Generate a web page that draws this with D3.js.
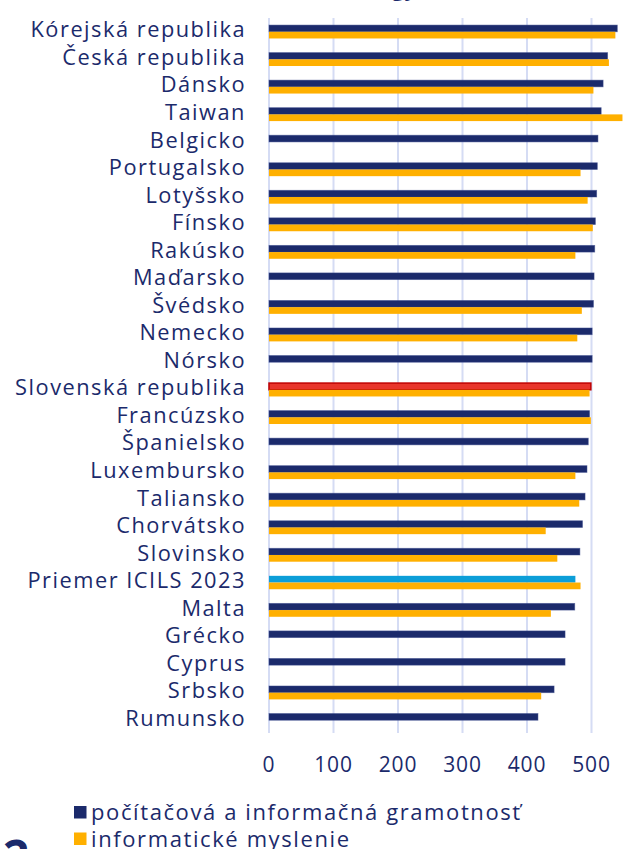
<!DOCTYPE html>
<html>
<head>
<meta charset="utf-8">
<script src="https://cdn.jsdelivr.net/npm/d3@7"></script>
<style>
  body { margin: 0; background: #fff; }
  text { font-family: "Open Sans", Roboto, sans-serif; fill: #1b2a6b; }
</style>
</head>
<body>
<div id="chart"></div>
<script>
// countries, top to bottom
const countries = ["Kórejská republika", "Česká republika", "Dánsko", "Taiwan", "Belgicko",
  "Portugalsko", "Lotyšsko", "Fínsko", "Rakúsko", "Maďarsko", "Švédsko", "Nemecko", "Nórsko",
  "Slovenská republika", "Francúzsko", "Španielsko", "Luxembursko", "Taliansko", "Chorvátsko",
  "Slovinsko", "Priemer ICILS 2023", "Malta", "Grécko", "Cyprus", "Srbsko", "Rumunsko"];

// počítačová a informačná gramotnosť
const cilValues = [540, 525, 518, 515, 510, 509, 508, 506, 505, 504, 503, 501, 501,
  499, 497, 495, 493, 490, 486, 482, 475, 474, 459, 459, 442, 417];

// informatické myslenie (null = not measured)
const ctValues = [537, 527, 503, 548, null, 483, 494, 502, 475, null, 485, 478, null,
  497, 499, null, 475, 481, 429, 447, 483, 437, null, null, 422, null];

const xTicks = [0, 100, 200, 300, 400, 500];
const legendLabels = ["počítačová a informačná gramotnosť", "informatické myslenie"];

const navy = "#1b2a6b", orange = "#ffb000", avgBlue = "#0c9ed8",
      skRed = "#e8352b", grid = "#d5dcf4";

const width = 633, height = 849;
const margin = {top: 18, right: 0, bottom: 115, left: 269};

const svg = d3.select("#chart")
  .append("svg")
    .attr("width", width)
    .attr("height", height);

const x = d3.scaleLinear()
  .domain([0, 100])
  .range([margin.left, margin.left + 64.5]);

const y = d3.scaleBand()
  .domain(countries)
  .range([margin.top, height - margin.bottom]);

const barH = 6.7;

// gridlines
svg.append("g")
  .selectAll("line")
  .data(xTicks)
  .join("line")
    .attr("x1", d => x(d))
    .attr("x2", d => x(d))
    .attr("y1", margin.top)
    .attr("y2", height - margin.bottom - 1)
    .attr("stroke", grid)
    .attr("stroke-width", 2);

// tick labels
svg.append("g")
  .selectAll("text")
  .data(xTicks)
  .join("text")
    .attr("x", d => x(d))
    .attr("y", 772)
    .attr("text-anchor", "middle")
    .style("font-size", "21px")
    .style("letter-spacing", "0.8px")
    .text(d => d);

// category labels
svg.append("g")
  .selectAll("text")
  .data(countries)
  .join("text")
    .attr("x", 246)
    .attr("y", d => y(d) + y.bandwidth() / 2 - 2)
    .attr("dy", "0.35em")
    .attr("text-anchor", "end")
    .style("font-size", "21.8px")
    .style("letter-spacing", "1.5px")
    .text(d => d);

const mid = d => y(d) + y.bandwidth() / 2;

// navy bars
svg.append("g")
  .selectAll("rect")
  .data(countries)
  .join("rect")
    .attr("x", x(0))
    .attr("y", d => mid(d) - barH)
    .attr("width", (d, i) => x(cilValues[i]) - x(0))
    .attr("height", barH)
    .attr("fill", d => d === "Slovenská republika" ? skRed : d === "Priemer ICILS 2023" ? avgBlue : navy)
    .attr("stroke", d => d === "Slovenská republika" ? "#c00000" : d === "Priemer ICILS 2023" ? "none" : "rgba(60,75,140,0.6)")
    .attr("stroke-width", d => d === "Slovenská republika" ? 1.5 : 0.8);

// orange bars
svg.append("g")
  .selectAll("rect")
  .data(countries.filter((d, i) => ctValues[i] !== null))
  .join("rect")
    .attr("x", x(0))
    .attr("y", d => mid(d))
    .attr("width", d => x(ctValues[countries.indexOf(d)]) - x(0))
    .attr("height", barH)
    .attr("fill", orange);

// legend
const legend = svg.append("g");
[navy, orange].forEach((c, i) => {
  legend.append("rect")
    .attr("x", 74)
    .attr("y", 806 + i * 26.5)
    .attr("width", 12.5)
    .attr("height", 12.5)
    .attr("fill", c);
  legend.append("text")
    .attr("x", 91)
    .attr("y", 820 + i * 26.5)
    .style("font-size", "22px")
    .style("letter-spacing", "1.6px")
    .text(legendLabels[i]);
});

// cut-off heading pieces at the page edges
svg.append("text")
  .attr("x", 3)
  .attr("y", 873)
  .style("font-size", "46px")
  .style("font-weight", "bold")
  .text("2");
svg.append("text")
  .attr("x", 392)
  .attr("y", -4)
  .style("font-size", "22px")
  .style("font-weight", "bold")
  .text("gy");
</script>
</body>
</html>
